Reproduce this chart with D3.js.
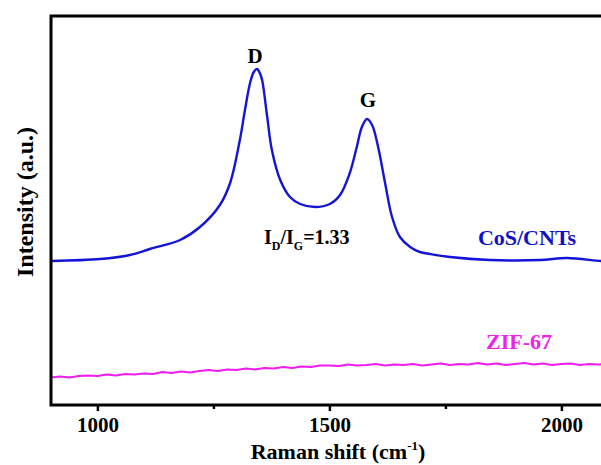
<!DOCTYPE html>
<html><head><meta charset="utf-8">
<script src="https://cdn.jsdelivr.net/npm/d3@7"></script>
<style>
html,body{margin:0;padding:0;background:#fff;}
svg{display:block;}
text{font-family:"Liberation Serif","Times New Roman",serif;font-weight:bold;}
</style></head>
<body>
<svg id="chart" width="601" height="465"></svg>
<script>
// Raman shift (cm-1) and intensity (a.u.)
const cosShift = [900,1006,1070,1113,1178,1221,1264,1286,1307,1318,1329,1337,1344,1350,1355,1366,1376,1394,1415,1437,1469,1501,1523,1544,1559,1570,1581,1592,1605,1620,1635,1652,1674,1695,1717,1760,1846,1954,2012,2085,2100];
const cosInt   = [144,146,150,156,165,178,200,222,265,295,322,333,336,332,325,288,255,225,208,201,198,201,210,232,258,278,286,280,258,222,188,168,158,153,151,148,145,145,147,144,144];

const zifShift = [900,920,940,960,980,1000,1020,1040,1060,1080,1100,1120,1140,1160,1180,1200,1220,1240,1260,1280,1300,1320,1340,1360,1380,1400,1420,1440,1460,1480,1500,1520,1540,1560,1580,1600,1620,1640,1660,1680,1700,1720,1740,1760,1780,1800,1820,1840,1860,1880,1900,1920,1940,1960,1980,2000,2020,2040,2060,2080,2100];
const zifInt   = [27.5,28.5,27.5,29,29.5,29,30.5,29.5,31,30.5,31.5,31,33,32,33.5,32.5,34,35,34,35.5,35,36.5,35.5,37,36.5,38,37,38.5,38,39.5,39.5,39,40.5,39.5,40,41,39.5,40.5,40,41,39.5,40.5,41.5,40,41,40.5,42,40.5,41.5,40,41,42,40.5,41.5,40,41,41.5,40,41,40.5,41];

const xTicksMajor = [1000,1500,2000];
const xTicksMinor = [1250,1750];
const xDomain = [900,2100];
const yDomain = [0,389];

const svg = d3.select("#chart");
const pLeft = 51, pTop = 16, pBottom = 405;
const x = d3.scaleLinear().domain(xDomain).range([pLeft, pLeft + 1200*0.464]);
const y = d3.scaleLinear().domain(yDomain).range([pBottom, pTop]);

const cos = cosShift.map((v,i)=>[v,cosInt[i]]);
const zif = zifShift.map((v,i)=>[v,zifInt[i]]);

const line = d3.line().x(d=>x(d[0])).y(d=>y(d[1])).curve(d3.curveCatmullRom.alpha(0.5));
const lineLin = d3.line().x(d=>x(d[0])).y(d=>y(d[1]));

svg.append("path").datum(zif).attr("d", lineLin).attr("fill","none")
  .attr("stroke","#f01cf0").attr("stroke-width",2.2).attr("stroke-linejoin","round");
svg.append("path").datum(cos).attr("d", line).attr("fill","none")
  .attr("stroke","#1414d8").attr("stroke-width",2.4).attr("stroke-linejoin","round");

// frame
svg.append("path")
  .attr("d", `M${x(xDomain[1])},${pTop} H${pLeft} V${pBottom} H${x(xDomain[1])}`)
  .attr("fill","none").attr("stroke","#000").attr("stroke-width",3);

// axis
const ax = svg.append("g").attr("transform",`translate(0,${pBottom})`)
  .call(d3.axisBottom(x).tickValues(xTicksMajor).tickSize(6).tickPadding(6).tickFormat(d3.format("d")));
ax.select(".domain").remove();
ax.selectAll(".tick line").attr("stroke","#000").attr("stroke-width",2.5);
ax.selectAll(".tick text").attr("font-size",21).attr("fill","#000")
  .attr("font-family","Liberation Serif").attr("font-weight","bold");
const axm = svg.append("g").attr("transform",`translate(0,${pBottom})`)
  .call(d3.axisBottom(x).tickValues(xTicksMinor).tickSize(4).tickFormat(""));
axm.select(".domain").remove();
axm.selectAll(".tick line").attr("stroke","#000").attr("stroke-width",2.5);

// labels
const xl = svg.append("text").attr("x",338).attr("y",459).attr("text-anchor","middle").attr("font-size",22).attr("fill","#000");
xl.append("tspan").text("Raman shift (cm");
xl.append("tspan").attr("font-size",13).attr("dy",-9).text("-1");
xl.append("tspan").attr("dy",9).text(")");

svg.append("text").attr("transform","translate(33,202) rotate(-90)").attr("text-anchor","middle")
  .attr("font-size",24).attr("fill","#000").text("Intensity (a.u.)");

svg.append("text").attr("x",255).attr("y",63).attr("text-anchor","middle").attr("font-size",21).attr("fill","#000").text("D");
svg.append("text").attr("x",368).attr("y",107).attr("text-anchor","middle").attr("font-size",21).attr("fill","#000").text("G");

const r = svg.append("text").attr("x",264).attr("y",244).attr("font-size",20).attr("fill","#000");
r.append("tspan").text("I");
r.append("tspan").attr("font-size",12).attr("dy",6).text("D");
r.append("tspan").attr("dy",-6).text("/I");
r.append("tspan").attr("font-size",12).attr("dy",6).text("G");
r.append("tspan").attr("dy",-6).text("=1.33");

svg.append("text").attr("x",527).attr("y",245).attr("text-anchor","middle").attr("font-size",22).attr("fill","#1010c8").text("CoS/CNTs");
svg.append("text").attr("x",519).attr("y",349).attr("text-anchor","middle").attr("font-size",22).attr("fill","#ee22ee").text("ZIF-67");
</script>
</body></html>
